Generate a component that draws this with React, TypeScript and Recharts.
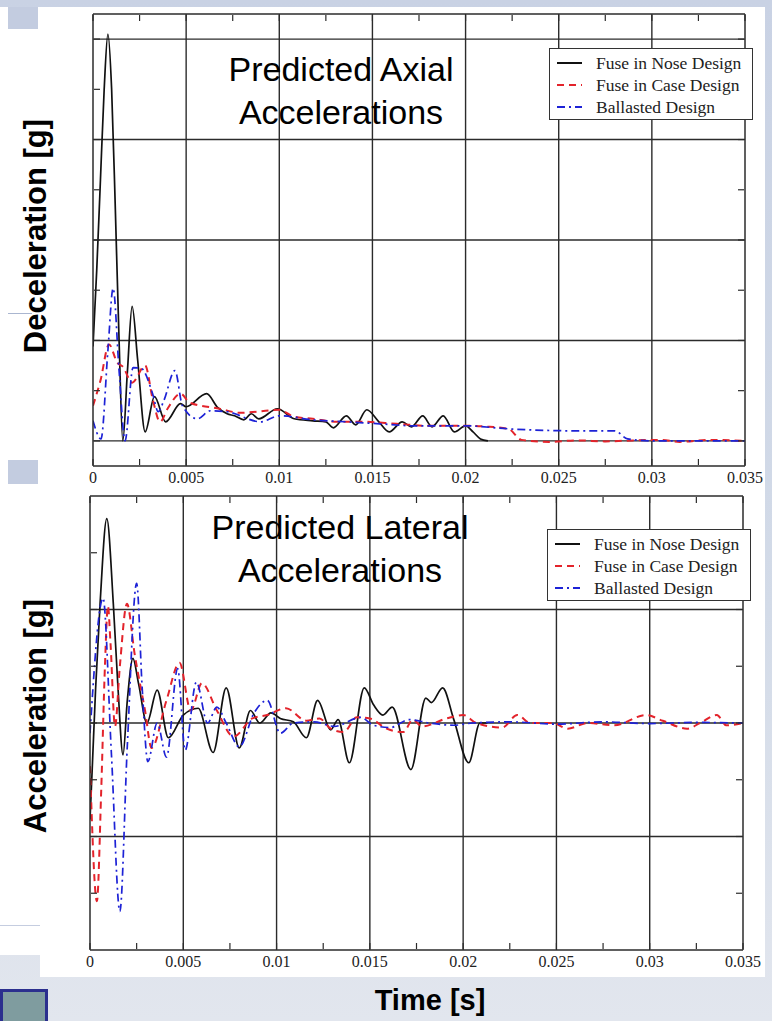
import React from 'react';
import { LineChart, Line, XAxis, YAxis, ReferenceLine, Legend } from 'recharts';

// time axis (s)
const xTicks = [0, 0.0025, 0.005, 0.0075, 0.01, 0.0125, 0.015, 0.0175, 0.02, 0.0225, 0.025, 0.0275, 0.03, 0.0325, 0.035];
const xMajor = [0.005, 0.01, 0.015, 0.02, 0.025, 0.03];
const xLabelValues = [0, 0.005, 0.01, 0.015, 0.02, 0.025, 0.03, 0.035];
const xLabels = ['0', '0.005', '0.01', '0.015', '0.02', '0.025', '0.03', '0.035'];

const seriesNames = ['Fuse in Nose Design', 'Fuse in Case Design', 'Ballasted Design'];
const seriesColors = ['#111111', '#e3232b', '#1d22d6'];
const seriesDash = ['', '7 5', '8 4 2 4'];

// axial deceleration (top plot)
const axialTicks = [0, 500, 1000, 1500, 2000, 2500, 3000, 3500, 4000];
const axialGrid = [0, 1000, 2000, 3000, 4000];

const noseAxialT = [0, 0.0002, 0.0004, 0.0006, 0.0008, 0.001, 0.0012, 0.0014, 0.0016, 0.00185, 0.0021, 0.0024, 0.0028, 0.0033, 0.0039, 0.0047, 0.005, 0.0061, 0.0067, 0.0072, 0.0076, 0.0081, 0.0085, 0.0089, 0.0099, 0.0108, 0.0118, 0.0125, 0.0129, 0.0136, 0.0141, 0.0147, 0.0153, 0.0159, 0.0166, 0.0171, 0.0177, 0.0182, 0.0188, 0.0194, 0.02, 0.0204, 0.0208, 0.0212];
const noseAxialG = [940, 1700, 2600, 3500, 4050, 3500, 2300, 1000, 0, 700, 1340, 800, 90, 440, 190, 370, 340, 470, 330, 270, 250, 210, 270, 220, 320, 220, 200, 190, 130, 250, 160, 310, 200, 90, 190, 140, 250, 140, 250, 90, 150, 90, 20, 0];

const caseAxialT = [0, 0.0004, 0.00086, 0.0013, 0.0016, 0.0021, 0.0028, 0.0032, 0.0036, 0.004, 0.0047, 0.0052, 0.0068, 0.0079, 0.0088, 0.01, 0.0108, 0.0118, 0.0131, 0.0145, 0.0163, 0.0181, 0.02, 0.0213, 0.0223, 0.023, 0.0245, 0.026, 0.0275, 0.029, 0.0305, 0.0315, 0.033, 0.035];
const caseAxialG = [350, 600, 960, 780, 740, 580, 750, 420, 190, 320, 470, 380, 320, 280, 290, 310, 240, 220, 190, 190, 170, 150, 150, 140, 120, 10, -10, 5, -5, 5, 10, -10, 10, 0];

const ballAxialT = [0, 0.00043, 0.0008, 0.00108, 0.0014, 0.00172, 0.00215, 0.0026, 0.0032, 0.0035, 0.0038, 0.0044, 0.0048, 0.0056, 0.0063, 0.0072, 0.009, 0.01, 0.0118, 0.0136, 0.0154, 0.0172, 0.02, 0.0223, 0.026, 0.028, 0.0287, 0.03, 0.035];
const ballAxialG = [200, 20, 900, 1520, 700, 0, 730, 720, 470, 290, 400, 700, 350, 220, 300, 290, 190, 250, 210, 190, 170, 150, 150, 120, 100, 100, 20, 0, 0];

// lateral acceleration (bottom plot)
const latTicks = [-1500, -1000, -500, 0, 500, 1000, 1500];
const latGrid = [-1000, 0, 1000];

const noseLatT = [0, 0.00012, 0.0003, 0.00054, 0.0009, 0.00125, 0.0015, 0.00177, 0.002, 0.0023, 0.0026, 0.00305, 0.0036, 0.0042, 0.005, 0.0058, 0.0066, 0.0073, 0.008, 0.0086, 0.0091, 0.0097, 0.0102, 0.0109, 0.0116, 0.0122, 0.0129, 0.0133, 0.0139, 0.0147, 0.0152, 0.0157, 0.0162, 0.0172, 0.018, 0.0183, 0.0189, 0.0195, 0.0203, 0.0209, 0.0213];
const noseLatG = [-850, -400, 300, 1050, 1800, 1050, 310, -280, 200, 570, 350, 0, 290, -130, 70, 130, -260, 310, -220, 110, 0, 90, 40, 10, -130, 200, -60, 30, -350, 310, 160, 70, 140, -410, 220, 180, 310, 30, -350, 0, 0];

const caseLatT = [0, 0.00037, 0.0006, 0.0008, 0.00096, 0.0011, 0.00134, 0.0016, 0.00198, 0.0024, 0.00295, 0.0033, 0.0041, 0.0048, 0.0054, 0.006, 0.0068, 0.0077, 0.0087, 0.0095, 0.0105, 0.0116, 0.0123, 0.0129, 0.0136, 0.0143, 0.015, 0.0159, 0.0168, 0.0173, 0.0178, 0.0191, 0.02, 0.0207, 0.0221, 0.0229, 0.0236, 0.0248, 0.0256, 0.0267, 0.0281, 0.0298, 0.0307, 0.032, 0.0327, 0.0336, 0.0341, 0.035];
const caseLatG = [-380, -1570, -600, 500, 1030, 700, -30, 500, 1050, 600, 110, -220, 200, 530, 110, 350, 110, -120, 40, 70, 130, 20, 40, -50, -80, 50, 40, -50, -80, 30, -30, 40, 70, 0, -40, 70, 0, 0, -50, 0, -20, 70, 20, -50, 0, 70, -20, 0];

const ballLatT = [0, 0.0007, 0.00115, 0.0016, 0.002, 0.0025, 0.0028, 0.0031, 0.0036, 0.0041, 0.0047, 0.0051, 0.0057, 0.0063, 0.0068, 0.0073, 0.008, 0.0088, 0.0095, 0.0102, 0.0109, 0.012, 0.0131, 0.0145, 0.0152, 0.0161, 0.0171, 0.0182, 0.0195, 0.0205, 0.0225, 0.025, 0.0275, 0.03, 0.0325, 0.035];
const ballLatG = [-90, 1100, -280, -1660, -200, 1230, 300, -340, 0, -300, 480, -240, 360, 0, 140, 0, -210, 90, 200, -90, 0, 10, -30, 50, -20, -40, 30, 0, -20, 0, 10, -10, 10, -5, 5, 0];

type Row = { t: number; nose?: number; case?: number; ball?: number };

function buildRows(sets: [string, number[], number[]][]): Row[] {
  const map = new Map<number, Row>();
  sets.forEach(([key, ts, vs]) => {
    ts.forEach((t, i) => {
      const row = map.get(t) || { t };
      (row as any)[key] = vs[i];
      map.set(t, row);
    });
  });
  return Array.from(map.values()).sort((a, b) => a.t - b.t);
}

const axialRows = buildRows([
  ['nose', noseAxialT, noseAxialG],
  ['case', caseAxialT, caseAxialG],
  ['ball', ballAxialT, ballAxialG],
]);
const lateralRows = buildRows([
  ['nose', noseLatT, noseLatG],
  ['case', caseLatT, caseLatG],
  ['ball', ballLatT, ballLatG],
]);

const serif = '"Liberation Serif", "DejaVu Serif", serif';
const sans = '"Liberation Sans", Arial, sans-serif';
const frameColor = '#2b2b2b';

const BottomTick = (props: any) => {
  const { x, y, payload } = props;
  const idx = xLabelValues.findIndex((v) => Math.abs(v - payload.value) < 1e-9);
  return (
    <g>
      <line x1={x} y1={y - 1} x2={x} y2={y - 7} stroke={frameColor} strokeWidth={1.2} />
      {idx >= 0 && (
        <text x={x} y={y + 17} textAnchor="middle" fontFamily={serif} fontSize={16} fill="#222">
          {xLabels[idx]}
        </text>
      )}
    </g>
  );
};
const TopTick = (props: any) => (
  <line x1={props.x} y1={props.y + 1} x2={props.x} y2={props.y + 7} stroke={frameColor} strokeWidth={1.2} />
);
const LeftTick = (props: any) => (
  <line x1={props.x + 1} y1={props.y} x2={props.x + 7} y2={props.y} stroke={frameColor} strokeWidth={1.2} />
);
const RightTick = (props: any) => (
  <line x1={props.x - 1} y1={props.y} x2={props.x - 7} y2={props.y} stroke={frameColor} strokeWidth={1.2} />
);

const LegendBox = () => (
  <div
    style={{
      width: 204,
      height: 72,
      border: '1.5px solid #333',
      background: '#fff',
      boxSizing: 'border-box',
      padding: '3px 0 0 6px',
      fontFamily: serif,
      fontSize: 17.5,
      color: '#222',
    }}
  >
    {seriesNames.map((name, i) => (
      <div key={name} style={{ display: 'flex', alignItems: 'center', height: 22 }}>
        <svg width={40} height={10}>
          <line x1={1} y1={5} x2={26} y2={5} stroke={seriesColors[i]} strokeWidth={2} strokeDasharray={seriesDash[i] || undefined} />
        </svg>
        <span style={{ lineHeight: '22px', whiteSpace: 'nowrap' }}>{name}</span>
      </div>
    ))}
  </div>
);

const axisLineStyle = { stroke: frameColor, strokeWidth: 1.5 };

function Panel(props: {
  rows: Row[];
  domain: [number, number];
  yTicks: number[];
  yGrid: number[];
  margin: { top: number; right: number; bottom: number; left: number };
  legendPos: { left: number; top: number };
}) {
  const { rows, domain, yTicks, yGrid, margin, legendPos } = props;
  return (
    <LineChart width={772} height={500} data={rows} margin={margin}>
      <XAxis
        dataKey="t"
        type="number"
        domain={[0, 0.035]}
        allowDataOverflow
        ticks={xTicks}
        height={1}
        tickSize={0}
        tickMargin={0}
        tickLine={false}
        interval={0}
        axisLine={axisLineStyle}
        tick={<BottomTick />}
      />
      <XAxis
        xAxisId="top"
        orientation="top"
        dataKey="t"
        type="number"
        domain={[0, 0.035]}
        allowDataOverflow
        ticks={xTicks}
        height={1}
        tickSize={0}
        tickMargin={0}
        tickLine={false}
        interval={0}
        axisLine={axisLineStyle}
        tick={<TopTick />}
      />
      <YAxis
        type="number"
        domain={domain}
        allowDataOverflow
        ticks={yTicks}
        width={1}
        tickSize={0}
        tickMargin={0}
        tickLine={false}
        interval={0}
        axisLine={axisLineStyle}
        tick={<LeftTick />}
      />
      <YAxis
        yAxisId="right"
        orientation="right"
        type="number"
        domain={domain}
        allowDataOverflow
        ticks={yTicks}
        width={1}
        tickSize={0}
        tickMargin={0}
        tickLine={false}
        interval={0}
        axisLine={axisLineStyle}
        tick={<RightTick />}
      />
      {xMajor.map((v) => (
        <ReferenceLine key={'x' + v} x={v} stroke={frameColor} strokeWidth={1.4} />
      ))}
      {yGrid.map((v) => (
        <ReferenceLine key={'y' + v} y={v} stroke={frameColor} strokeWidth={1.4} />
      ))}
      <Line dataKey="nose" name={seriesNames[0]} type="monotone" stroke={seriesColors[0]} strokeWidth={1.7} dot={false} connectNulls isAnimationActive={false} />
      <Line dataKey="case" name={seriesNames[1]} type="monotone" stroke={seriesColors[1]} strokeWidth={2} strokeDasharray={seriesDash[1]} dot={false} connectNulls isAnimationActive={false} />
      <Line dataKey="ball" name={seriesNames[2]} type="monotone" stroke={seriesColors[2]} strokeWidth={1.7} strokeDasharray={seriesDash[2]} dot={false} connectNulls isAnimationActive={false} />
      <Legend
        layout="vertical"
        align="center"
        verticalAlign="middle"
        content={() => <LegendBox />}
        wrapperStyle={{ position: 'absolute', left: legendPos.left, top: legendPos.top, width: 204, height: 72 }}
      />
    </LineChart>
  );
}

const titleStyle: React.CSSProperties = {
  position: 'absolute',
  fontFamily: sans,
  fontSize: 34,
  lineHeight: '43px',
  color: '#000',
  textAlign: 'center',
  width: 320,
};

const yLabelStyle: React.CSSProperties = {
  position: 'absolute',
  fontFamily: sans,
  fontWeight: 'bold',
  fontSize: 31,
  color: '#000',
  width: 300,
  textAlign: 'center',
  lineHeight: '36px',
  transform: 'rotate(-90deg)',
};

export default function App() {
  return (
    <div
      style={{
        position: 'absolute',
        left: 0,
        top: 0,
        width: 772,
        height: 1021,
        overflow: 'hidden',
        background: 'linear-gradient(180deg, #c9d2e4 0%, #d3dbe8 60%, #e2e6ee 100%)',
      }}
    >
      {/* white chart panels */}
      <div style={{ position: 'absolute', left: 0, top: 7, width: 765, height: 483, background: '#fff' }} />
      <div style={{ position: 'absolute', left: 0, top: 490, width: 765, height: 465, background: '#fff' }} />
      <div style={{ position: 'absolute', left: 40, top: 955, width: 725, height: 22, background: '#fff' }} />
      <div style={{ position: 'absolute', left: 8, top: 7, width: 30, height: 22, background: '#c3cce0' }} />
      <div style={{ position: 'absolute', left: 8, top: 460, width: 30, height: 24, background: '#c3cce0' }} />
      <div style={{ position: 'absolute', left: 8, top: 313, width: 24, height: 1, background: '#aab6d0' }} />
      <div style={{ position: 'absolute', left: 0, top: 925, width: 40, height: 1, background: '#c5cde0' }} />
      <div
        style={{
          position: 'absolute',
          left: 0,
          top: 989,
          width: 48,
          height: 40,
          background: '#7f9c9f',
          border: '3px solid #2b2f8e',
          boxSizing: 'border-box',
        }}
      />

      <div style={{ position: 'absolute', left: 0, top: 0 }}>
        <Panel
          rows={axialRows}
          domain={[-250, 4250]}
          yTicks={axialTicks}
          yGrid={axialGrid}
          margin={{ top: 13, right: 26, bottom: 33, left: 92 }}
          legendPos={{ left: 549, top: 48 }}
        />
      </div>
      <div style={{ position: 'absolute', left: 0, top: 480 }}>
        <Panel
          rows={lateralRows}
          domain={[-2000, 2000]}
          yTicks={latTicks}
          yGrid={latGrid}
          margin={{ top: 15, right: 28, bottom: 29, left: 89 }}
          legendPos={{ left: 547, top: 49 }}
        />
      </div>

      <div style={{ ...titleStyle, left: 181, top: 48 }}>
        Predicted Axial
        <br />
        Accelerations
      </div>
      <div style={{ ...titleStyle, left: 180, top: 506 }}>
        Predicted Lateral
        <br />
        Accelerations
      </div>

      <div style={{ ...yLabelStyle, left: 36 - 150, top: 236 - 18 }}>Deceleration [g]</div>
      <div style={{ ...yLabelStyle, left: 36 - 150, top: 716 - 18 }}>Acceleration [g]</div>
      <div
        style={{
          position: 'absolute',
          left: 330,
          top: 983,
          width: 200,
          textAlign: 'center',
          fontFamily: sans,
          fontWeight: 'bold',
          fontSize: 29,
          lineHeight: '34px',
          color: '#000',
        }}
      >
        Time [s]
      </div>
    </div>
  );
}
